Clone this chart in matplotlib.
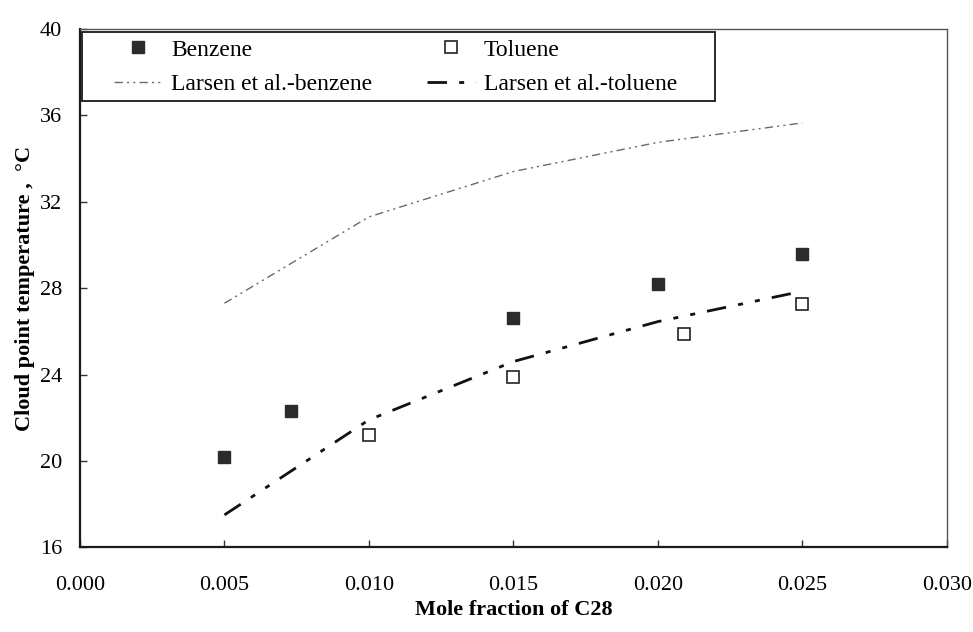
import matplotlib
matplotlib.use("Agg")
import matplotlib.pyplot as plt
from matplotlib.patches import Rectangle

benzene_x = [0.005, 0.0073, 0.015, 0.020, 0.025]
benzene_y = [20.2, 22.3, 26.6, 28.2, 29.6]

toluene_x = [0.010, 0.015, 0.0209, 0.025]
toluene_y = [21.2, 23.9, 25.9, 27.25]

larsen_x = [0.005, 0.010, 0.015, 0.020, 0.025]
larsen_benzene_y = [27.3, 31.3, 33.4, 34.75, 35.65]
larsen_toluene_x = [0.005, 0.010, 0.015, 0.020, 0.0248]
larsen_toluene_y = [17.5, 21.9, 24.6, 26.45, 27.8]

x_ticks = [0.000, 0.005, 0.010, 0.015, 0.020, 0.025, 0.030]
y_ticks = [16, 20, 24, 28, 32, 36, 40]

plt.rcParams['font.family'] = ['Liberation Serif', 'DejaVu Serif']

fig = plt.figure(figsize=(9.73, 6.32), dpi=100)
ax = fig.add_axes([80 / 973, 1 - 547.3 / 632, 866.7 / 973, (547.3 - 29) / 632])

h_benz, = ax.plot(benzene_x, benzene_y, ls='none', marker='s', ms=9,
                  mfc='#2b2b2b', mec='#2b2b2b', label='Benzene')
h_tol, = ax.plot(toluene_x, toluene_y, ls='none', marker='s', ms=9,
                 mfc='white', mec='#222222', mew=1.2, label='Toluene')
h_lb, = ax.plot(larsen_x, larsen_benzene_y, color='#6a6a6a', lw=1.0,
                ls=(0, (6, 3, 1.5, 3, 1.5, 3)), label='Larsen et al.-benzene')
h_lt, = ax.plot(larsen_toluene_x, larsen_toluene_y, color='#111111', lw=2.0,
                ls=(0, (7, 4.4, 1.8, 4.4, 1.8, 4.4)), label='Larsen et al.-toluene')

ax.set_xlim(0, 0.030)
ax.set_ylim(16, 40)
ax.set_xticks(x_ticks)
ax.set_xticklabels([f"{v:.3f}" for v in x_ticks])
ax.set_yticks(y_ticks)

ax.tick_params(axis='both', direction='in', length=5, width=1, labelsize=16, color='#333333')
ax.tick_params(axis='x', pad=21)
ax.tick_params(axis='y', pad=13)

for side in ['left', 'bottom']:
    ax.spines[side].set_linewidth(1.6)
    ax.spines[side].set_color('#1a1a1a')
for side in ['top', 'right']:
    ax.spines[side].set_linewidth(1.0)
    ax.spines[side].set_color('#555555')

ax.set_xlabel('Mole fraction of C28', fontsize=16, fontweight='bold', labelpad=3)
ax.set_ylabel('Cloud point temperature ,  \u00b0C', fontsize=16, fontweight='bold')
ax.yaxis.set_label_coords(-0.052, 0.5)

# legend without its own frame, box drawn separately
leg = ax.legend([h_benz, h_lb, h_tol, h_lt],
                ['Benzene', 'Larsen et al.-benzene', 'Toluene', 'Larsen et al.-toluene'],
                ncol=2, frameon=False, fontsize=17, loc='upper left',
                bbox_to_anchor=(114 / 973, 1 - 39 / 632), bbox_transform=fig.transFigure,
                borderpad=0, borderaxespad=0, handlelength=2.06, handletextpad=0.35,
                columnspacing=2.33, labelspacing=0.56)

ax.add_patch(Rectangle((82 / 973, 1 - 101 / 632), 633 / 973, 69 / 632,
                       transform=fig.transFigure, fill=False, edgecolor='#1a1a1a',
                       lw=1.3, clip_on=False, zorder=5))

fig.savefig('out.png', dpi=100)
